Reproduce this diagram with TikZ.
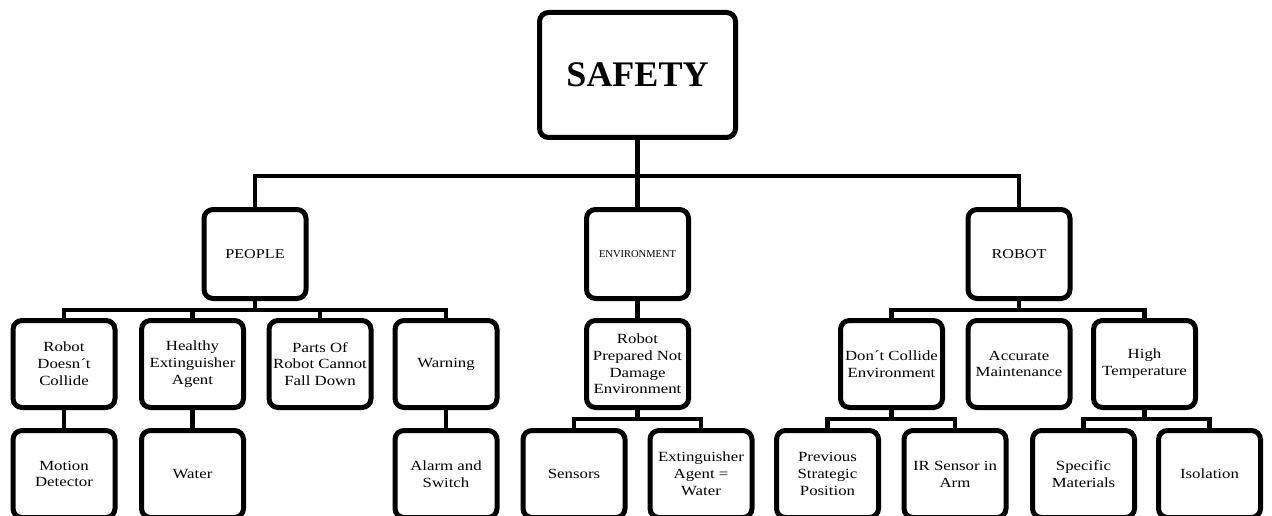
\documentclass[tikz,border=0pt]{standalone}
\usepackage{fontspec}
\setmainfont[FakeStretch=1.2]{Liberation Serif}
\newfontfamily\plainserif{Liberation Serif}
\begin{document}
\begin{tikzpicture}[x=1pt,y=-1pt,
  box/.style={draw, line width=5pt, rounded corners=9pt, fill=white, align=center,
    minimum width=102pt, minimum height=87pt, inner sep=0pt,
    font=\fontsize{14}{16.8}\selectfont},
  midbox/.style={box, minimum height=89pt, font=\fontsize{13.5}{16}\selectfont},
  conn/.style={line width=4.5pt}]
\useasboundingbox (0,0) rectangle (1272,516);
\clip (0,0) rectangle (1272,516);
% level 1
\node[box, minimum width=196pt, minimum height=125pt, font=\plainserif\bfseries\fontsize{36}{40}\selectfont] (safety) at (637.5,75) {SAFETY};
% level 2
\node[midbox] (people) at (255,254) {PEOPLE};
\node[midbox, font=\plainserif\fontsize{10.5}{12}\selectfont] (env) at (637.5,254) {ENVIRONMENT};
\node[midbox] (robot) at (1019,254) {ROBOT};
% level 3
\node[box] (c1) at (64,364) {Robot\\Doesn´t\\Collide};
\node[box] (c2) at (192.5,364) {Healthy\\Extinguisher\\Agent};
\node[box] (c3) at (320,364) {Parts Of\\Robot Cannot\\Fall Down};
\node[box] (c4) at (446,364) {Warning};
\node[box] (e1) at (637.5,364) {Robot\\Prepared Not\\Damage\\Environment};
\node[box] (r1) at (891.5,364) {Don´t Collide\\Environment};
\node[box] (r2) at (1019,364) {Accurate\\Maintenance};
\node[box] (r3) at (1144.5,364) {High\\Temperature};
% level 4
\node[box] (d1) at (64,474) {Motion\\Detector};
\node[box] (d2) at (192.5,474) {Water};
\node[box] (d4) at (446,474) {Alarm and\\Switch};
\node[box] (f1) at (574,474) {Sensors};
\node[box] (f2) at (701,474) {Extinguisher\\Agent =\\Water};
\node[box] (g1) at (827.5,474) {Previous\\Strategic\\Position};
\node[box] (g2) at (955,474) {IR Sensor in\\Arm};
\node[box] (g3) at (1083.5,474) {Specific\\Materials};
\node[box] (g4) at (1209.5,474) {Isolation};
% bar levels
\coordinate (b1) at (0,176);
\coordinate (b2) at (0,310);
\coordinate (b3) at (0,419);
% connectors
\draw[conn] (safety.south) -- (env.north);
\draw[conn] (people.north) -- (people.north |- b1) -- (robot.north |- b1) -- (robot.north);
\draw[conn] (people.south) -- (people.south |- b2);
\draw[conn] (c1.north) -- (c1.north |- b2) -- (c4.north |- b2) -- (c4.north);
\draw[conn] (c2.north) -- (c2.north |- b2);
\draw[conn] (c3.north) -- (c3.north |- b2);
\draw[conn] (c1.south) -- (d1.north);
\draw[conn] (c2.south) -- (d2.north);
\draw[conn] (c4.south) -- (d4.north);
\draw[conn] (env.south) -- (e1.north);
\draw[conn] (e1.south) -- (e1.south |- b3);
\draw[conn] (f1.north) -- (f1.north |- b3) -- (f2.north |- b3) -- (f2.north);
\draw[conn] (robot.south) -- (robot.south |- b2);
\draw[conn] (r1.north) -- (r1.north |- b2) -- (r3.north |- b2) -- (r3.north);
\draw[conn] (r1.south) -- (r1.south |- b3);
\draw[conn] (g1.north) -- (g1.north |- b3) -- (g2.north |- b3) -- (g2.north);
\draw[conn] (r3.south) -- (r3.south |- b3);
\draw[conn] (g3.north) -- (g3.north |- b3) -- (g4.north |- b3) -- (g4.north);
\end{tikzpicture}
\end{document}
